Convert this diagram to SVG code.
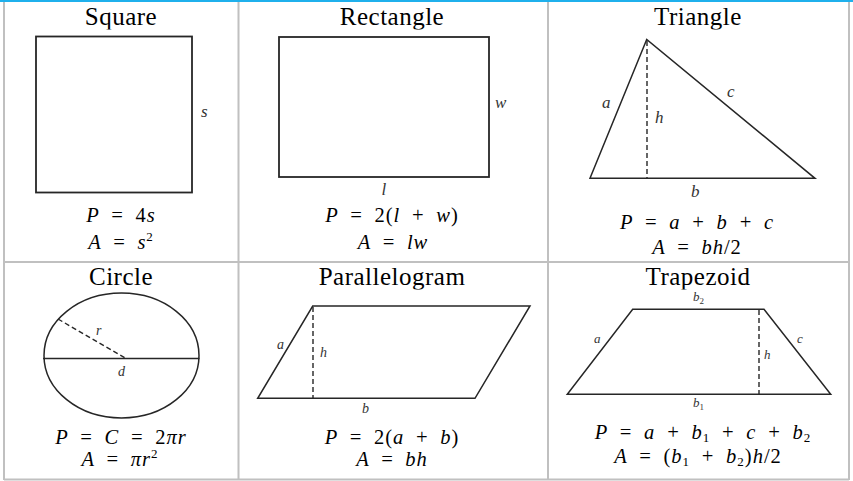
<svg xmlns="http://www.w3.org/2000/svg" width="853" height="481" viewBox="0 0 853 481">
<style>
.grid{fill:none;stroke:#c0c0c0;stroke-width:2}
.shape{fill:none;stroke:#262626;stroke-width:1.8;stroke-linejoin:miter}
.thin{fill:none;stroke:#262626;stroke-width:1.5}
.dash{fill:none;stroke:#262626;stroke-width:1.4;stroke-dasharray:5 3}
.title{font-family:"Liberation Serif","DejaVu Serif",serif;font-size:25px;letter-spacing:0.5px;fill:#000;text-anchor:middle}
.m{font-family:"Liberation Serif","DejaVu Serif",serif;font-size:20.5px;font-style:italic;letter-spacing:1px;word-spacing:4.5px;fill:#000;text-anchor:middle}
.n{font-style:normal}
.lbl{font-family:"Liberation Serif","DejaVu Serif",serif;font-style:italic;fill:#333}
.l16{font-size:17px}
.l14{font-size:14px}
.l13{font-size:13px}
</style>
<defs>
<clipPath id="topTitle"><rect x="0" y="0" width="853" height="29.5"/></clipPath>
<clipPath id="botTitle"><rect x="0" y="262" width="853" height="27.5"/></clipPath>
</defs>
<rect x="0" y="0" width="853" height="2" fill="#1fb0ec"/>
<g id="table">
<path class="grid" d="M4 2V480M849 2V480M4 479.5H849M238.5 2V480M548 2V480M4 262H849"/>
</g>
<g id="square">
<text class="title" x="121" y="25" clip-path="url(#topTitle)">Square</text>
<rect class="shape" x="36" y="36.5" width="156" height="156"/>
<text class="lbl l16" x="201" y="117">s</text>
<text class="m" x="121" y="222">P = <tspan class="n">4</tspan>s</text>
<text class="m" x="121" y="249">A = s<tspan class="n" font-size="13" dy="-8">2</tspan></text>
</g>
<g id="rectangle">
<text class="title" x="392" y="25" clip-path="url(#topTitle)">Rectangle</text>
<rect class="shape" x="279" y="37" width="210" height="140"/>
<text class="lbl l16" x="495" y="107.5">w</text>
<text class="lbl l16" x="381.5" y="195">l</text>
<text class="m" x="392" y="222">P = <tspan class="n">2(</tspan>l + w<tspan class="n">)</tspan></text>
<text class="m" x="393" y="249">A = lw</text>
</g>
<g id="triangle">
<text class="title" x="698" y="25" clip-path="url(#topTitle)">Triangle</text>
<path class="thin" d="M646.7 39.5L590 178.3H815Z"/>
<line class="dash" x1="647" y1="41" x2="647" y2="178"/>
<text class="lbl l16" x="602" y="108">a</text>
<text class="lbl l16" x="655" y="122.5">h</text>
<text class="lbl l16" x="727" y="96.5">c</text>
<text class="lbl l16" x="691" y="197">b</text>
<text class="m" x="697" y="229">P = a + b + c</text>
<text class="m" x="697" y="254">A = bh<tspan class="n">/2</tspan></text>
</g>
<g id="circle">
<text class="title" x="121" y="285" clip-path="url(#botTitle)">Circle</text>
<ellipse class="thin" cx="121.5" cy="355.5" rx="77.5" ry="62.5"/>
<line class="thin" x1="43" y1="358.5" x2="199.5" y2="358.5"/>
<line class="dash" x1="58" y1="319" x2="126" y2="358.5"/>
<text class="lbl l14" x="96" y="335">r</text>
<text class="lbl l14" x="118" y="375.5">d</text>
<text class="m" x="121" y="444">P = C = <tspan class="n">2</tspan>πr</text>
<text class="m" x="120" y="466">A = πr<tspan class="n" font-size="13" dy="-8">2</tspan></text>
</g>
<g id="parallelogram">
<text class="title" x="392" y="285" clip-path="url(#botTitle)">Parallelogram</text>
<path class="thin" d="M312.7 306H530L475 398.3H257.7Z"/>
<line class="dash" x1="313" y1="307" x2="313" y2="398"/>
<text class="lbl l14" x="277" y="349">a</text>
<text class="lbl l14" x="320" y="357">h</text>
<text class="lbl l14" x="362" y="412.5">b</text>
<text class="m" x="392" y="444">P = <tspan class="n">2(</tspan>a + b<tspan class="n">)</tspan></text>
<text class="m" x="392" y="466">A = bh</text>
</g>
<g id="trapezoid">
<text class="title" x="698" y="285" clip-path="url(#botTitle)">Trapezoid</text>
<path class="thin" d="M632.7 309.3H764L830.7 394.3H567.3Z"/>
<line class="dash" x1="759" y1="310" x2="759" y2="394"/>
<text class="lbl l13" x="693" y="301">b<tspan class="n" font-size="9" dy="3">2</tspan></text>
<text class="lbl l13" x="594" y="343">a</text>
<text class="lbl l13" x="797" y="343">c</text>
<text class="lbl l13" x="764" y="359">h</text>
<text class="lbl l13" x="693" y="407">b<tspan class="n" font-size="9" dy="3">1</tspan></text>
<text class="m" x="703" y="439">P = a + b<tspan class="n" font-size="13" dy="3">1</tspan><tspan dy="-3"> + c + b</tspan><tspan class="n" font-size="13" dy="3">2</tspan></text>
<text class="m" x="698" y="463">A = <tspan class="n">(</tspan>b<tspan class="n" font-size="13" dy="3">1</tspan><tspan dy="-3"> + b</tspan><tspan class="n" font-size="13" dy="3">2</tspan><tspan class="n" dy="-3">)</tspan>h<tspan class="n">/2</tspan></text>
</g>
</svg>
